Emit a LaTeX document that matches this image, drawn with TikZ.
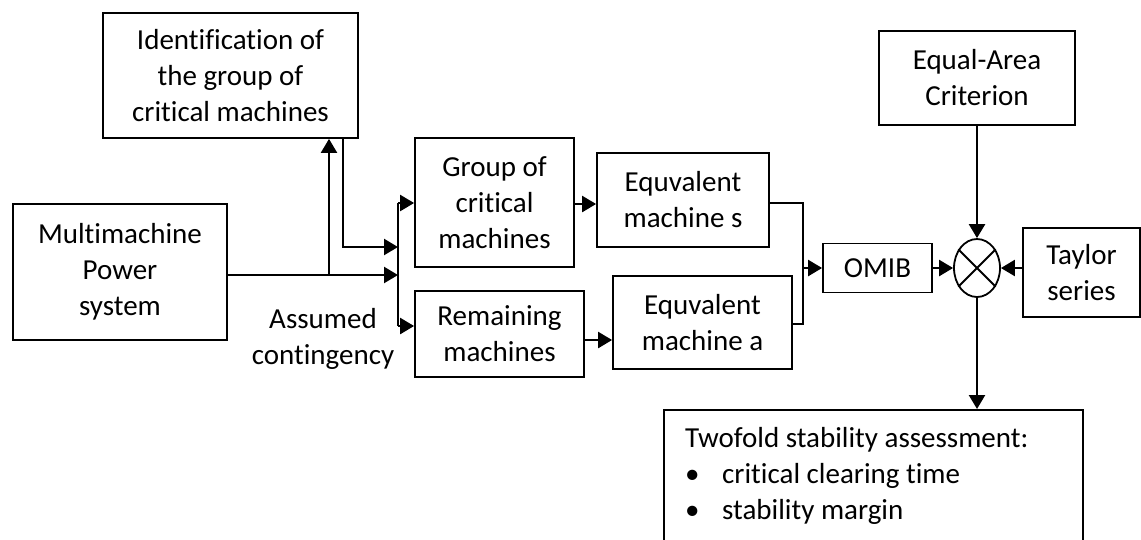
\documentclass[tikz,border=0pt]{standalone}
\usepackage{fontspec}
\setmainfont{Carlito}[Ligatures={NoCommon,NoRare,NoDiscretionary}]
\usetikzlibrary{arrows.meta,shapes.geometric}
\tikzset{
  box/.style={draw=black, line width=1.8pt, rectangle, inner sep=0pt, align=center,
    font=\fontsize{29}{36}\selectfont},
  lbl/.style={inner sep=0pt, align=center, font=\fontsize{29}{36}\selectfont},
  conn/.style={draw=black, line width=2.4pt},
  thin/.style={draw=black, line width=1.8pt},
  arr/.style={conn, -{Triangle[length=14pt,width=16pt]}},
}
\begin{document}
\begin{tikzpicture}[x=1pt,y=-1pt]
\useasboundingbox (0,0) rectangle (1141,539);
% boxes
\node[box, minimum width=255pt, minimum height=125pt] (idf) at (230.5,75.5) {Identification of\\the group of\\critical machines};
\node[box, minimum width=214pt, minimum height=136pt] (mm) at (120,272) {Multimachine\\Power\\system};
\node[box, minimum width=159pt, minimum height=129pt] (grp) at (494.5,202.5) {Group of\\critical\\machines};
\node[box, minimum width=169pt, minimum height=86pt] (rem) at (499.5,334) {Remaining\\machines};
\node[box, minimum width=172pt, minimum height=94pt] (eqs) at (683,200) {Equvalent\\machine s};
\node[box, minimum width=179pt, minimum height=93pt] (eqa) at (702.5,322.5) {Equvalent\\machine a};
\node[box, minimum width=196pt, minimum height=94pt] (eac) at (977,78) {Equal-Area\\Criterion};
\node[box, minimum width=109pt, minimum height=49pt] (omib) at (877.5,268) {OMIB};
\node[box, minimum width=117pt, minimum height=89pt] (tay) at (1081.5,272.5) {Taylor\\series};
\node[draw=black, line width=1.8pt, ellipse, minimum width=46pt, minimum height=58pt, inner sep=0pt] (sum) at (977,268) {};
\draw[thin] (sum.45) -- (sum.225) (sum.135) -- (sum.315);
\node[box, anchor=north west, minimum width=419pt, minimum height=140pt] (out) at (663,409) {};
\node[lbl, align=left, anchor=north west] (outtxt) at (685,427)
  {Twofold stability assessment:\\\makebox[37pt][l]{•}critical clearing time\\\makebox[37pt][l]{•}stability margin};
\node[lbl] (ac) at (323,339) {Assumed\\contingency};
% junction coordinates
\coordinate (j1) at (329,275);
\coordinate (busT) at (398,203);
\coordinate (busB) at (398,326);
\coordinate (bus1) at (398,247);
\coordinate (bus2) at (398,275);
\coordinate (m) at (803,268);
% connectors
\draw[conn] (mm.east |- bus2) -- (j1);
\draw[arr] (j1) -- (bus2);
\draw[arr] (j1) -- (j1 |- idf.south);
\draw[arr] ([xshift=-16pt]idf.south east) |- (bus1);
\draw[thin] (busT) -- (busB);
\draw[arr] (busT) -- (busT -| grp.west);
\draw[arr] (busB) -- (busB -| rem.west);
\draw[arr] ([yshift=-1.5pt]grp.east) -- ([yshift=-1.5pt]grp.east -| eqs.west);
\draw[arr] ([yshift=-6pt]rem.east) -- ([yshift=-6pt]rem.east -| eqa.west);
\draw[thin] ([yshift=-3pt]eqs.east) -| (m);
\draw[thin] ([yshift=-1.5pt]eqa.east) -| (m);
\draw[arr] (m) -- (omib.west);
\draw[arr] (omib.east) -- (sum.west);
\draw[arr] (eac.south) -- (sum.north);
\draw[arr] (tay.west |- sum) -- (sum.east);
\draw[arr] (sum.south) -- (sum.south |- out.north);
\end{tikzpicture}
\end{document}
